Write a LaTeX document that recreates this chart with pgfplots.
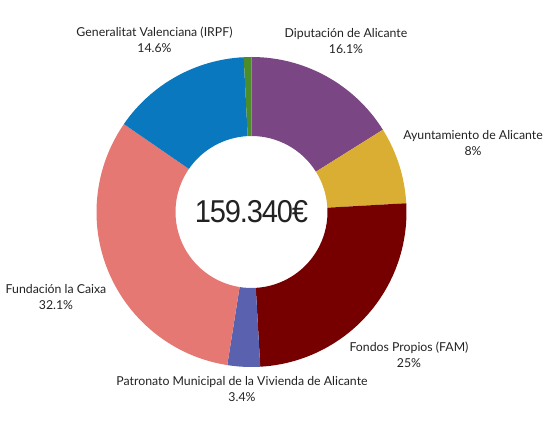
\documentclass[border=0pt]{standalone}
\usepackage{pgfplots}
\usepackage{pgfplotstable}
\pgfplotsset{compat=1.18}
\usepackage{fontspec}
\setmainfont{Lato}
\newfontfamily\bigfont[LetterSpace=-4]{Liberation Sans}
\definecolor{cDip}{HTML}{7A4784}
\definecolor{cAyu}{HTML}{D9AE33}
\definecolor{cFon}{HTML}{760000}
\definecolor{cPat}{HTML}{5A62AF}
\definecolor{cFun}{HTML}{E57872}
\definecolor{cGen}{HTML}{0A78BE}
\definecolor{cGre}{HTML}{4C8C2B}
\definecolor{txt}{HTML}{222222}
\pgfplotstableread{
value color
16.1 cDip
8 cAyu
25 cFon
3.4 cPat
32.1 cFun
14.6 cGen
0.8 cGre
}\pietable
\begin{document}
\begin{tikzpicture}
\begin{axis}[x=0.02cm,y=0.02cm,xmin=0,xmax=551,ymin=0,ymax=429,
  hide axis,clip=false,scale only axis]
\path (axis cs:0,0) rectangle (axis cs:551,429);
\pgfplotsextra{
  \gdef\cum{0}
  \foreach \i in {0,...,6}{
    \pgfplotstablegetelem{\i}{value}\of\pietable \let\wv\pgfplotsretval
    \pgfplotstablegetelem{\i}{color}\of\pietable \let\wc\pgfplotsretval
    \pgfmathsetmacro\sa{90-3.6*\cum}
    \pgfmathsetmacro\ea{90-3.6*(\cum+\wv)}
    \fill[\wc] (axis cs:{251.5+155*cos(\sa)},{217+155*sin(\sa)})
      arc[start angle=\sa,end angle=\ea,radius=3.1cm]
      -- (axis cs:{251.5+76*cos(\ea)},{217+76*sin(\ea)})
      arc[start angle=\ea,end angle=\sa,radius=1.52cm] -- cycle;
    \pgfmathsetmacro\newcum{\cum+\wv}\global\let\cum\newcum
  }
}
\node[txt] at (axis cs:251.5,217) {\scalebox{0.92}[1]{\bigfont\fontsize{18}{20}\selectfont 159.340€}};
\begin{scope}[every node/.style={align=center,text=txt,font=\fontsize{7}{9}\selectfont,inner sep=0pt}]
\node at (axis cs:154.5,389) {Generalitat Valenciana (IRPF)\\14.6\%};
\node at (axis cs:346,388) {Diputación de Alicante\\16.1\%};
\node at (axis cs:473,286) {Ayuntamiento de Alicante\\8\%};
\node at (axis cs:56,132) {Fundación la Caixa\\32.1\%};
\node at (axis cs:409,74) {Fondos Propios (FAM)\\25\%};
\node at (axis cs:242,40) {Patronato Municipal de la Vivienda de Alicante\\3.4\%};
\end{scope}
\end{axis}
\end{tikzpicture}
\end{document}
